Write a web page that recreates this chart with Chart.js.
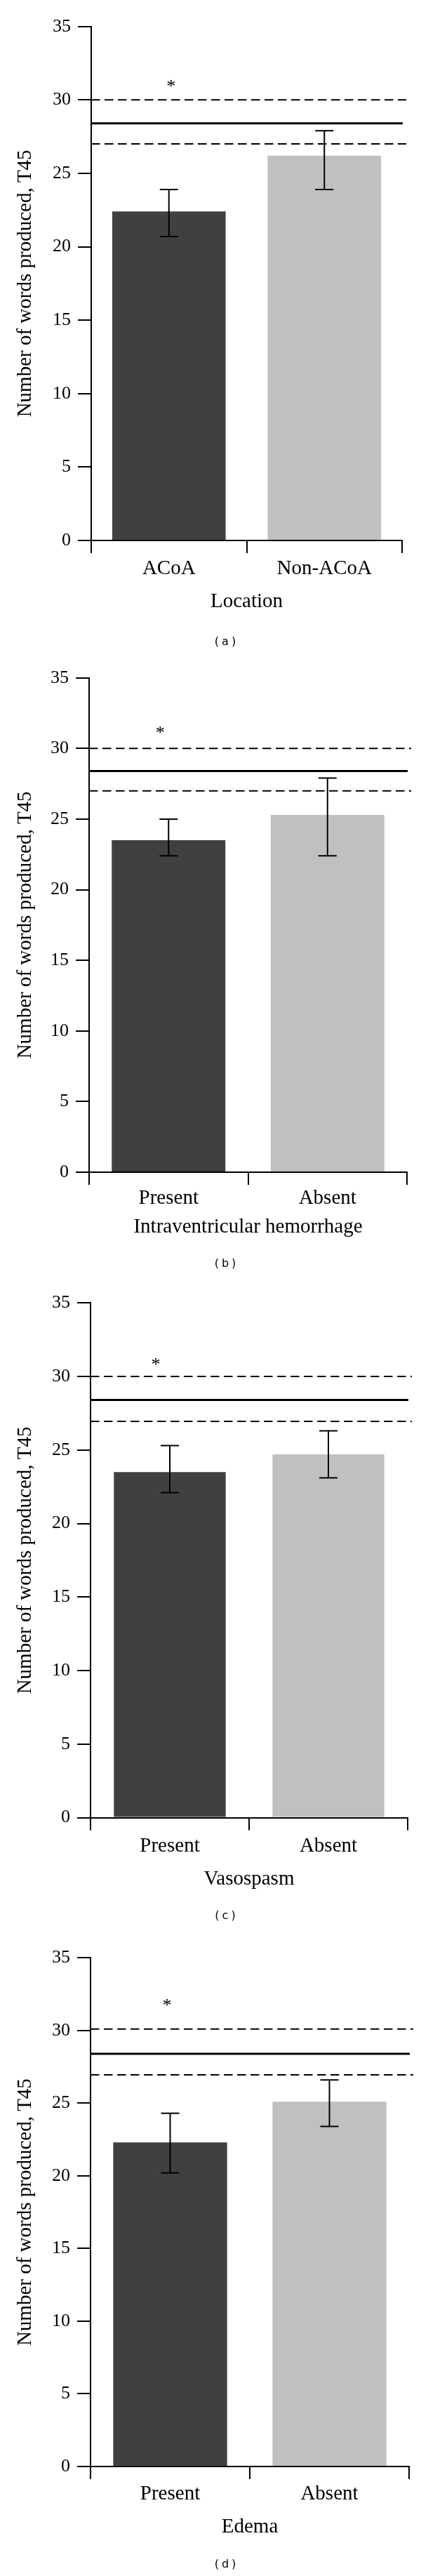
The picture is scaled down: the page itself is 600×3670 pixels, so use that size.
<!DOCTYPE html>
<html>
<head>
<meta charset="utf-8">
<script src="https://cdn.jsdelivr.net/npm/chart.js@4.4.1/dist/chart.umd.min.js"></script>
<style>
  html, body { margin: 0; padding: 0; background: #fff; }
  #page { position: relative; width: 600px; height: 3670px; }
  .panel { position: absolute; left: 0; width: 600px; }
</style>
</head>
<body>
<div id="page"></div>
<script>
// (a) Location
const locationLabels = ['ACoA', 'Non-ACoA'];
const locationMeans = [22.4, 26.2];
const locationLow = [20.7, 23.9];
const locationHigh = [23.9, 27.9];

// (b) Intraventricular hemorrhage
const ivhLabels = ['Present', 'Absent'];
const ivhMeans = [23.5, 25.3];
const ivhLow = [22.4, 22.4];
const ivhHigh = [25.0, 27.9];

// (c) Vasospasm
const vasoLabels = ['Present', 'Absent'];
const vasoMeans = [23.5, 24.7];
const vasoLow = [22.1, 23.1];
const vasoHigh = [25.3, 26.3];

// (d) Edema
const edemaLabels = ['Present', 'Absent'];
const edemaMeans = [22.3, 25.1];
const edemaLow = [20.2, 23.4];
const edemaHigh = [24.3, 26.6];

// normative mean (solid) and +/- band (dashed), one per panel
const normUpper = [30.0, 30.0, 30.0, 30.1];
const normMean = [28.4, 28.4, 28.4, 28.4];
const normLower = [27.0, 27.0, 26.95, 26.95];
const asteriskValue = [31.2, 31.4, 31.1, 32.0];

const axisTitles = ['Location', 'Intraventricular hemorrhage', 'Vasospasm', 'Edema'];
const captions = ['(a)', '(b)', '(c)', '(d)'];
const yMin = 0, yMax = 35, yStep = 5;
const yTitle = 'Number of words produced, T45';

const barColors = ['#404040', '#c0c0c0'];

// page layout of each panel (pixels)
const layouts = [
  { top: 0,    h: 925, areaTop: 37.7, areaBottom: 770,   left: 130, right: 573, labelPad: 4.6, titlePad: 50.6, capY: 915,   starDx: 3,   barPct: 0.73 },
  { top: 925,  h: 890, areaTop: 40.7, areaBottom: 745,   left: 127, right: 580, labelPad: 2.1, titlePad: 49.1, capY: 876,   starDx: -12, barPct: 0.715 },
  { top: 1815, h: 930, areaTop: 41.3, areaBottom: 774.5, left: 129, right: 581, labelPad: 5.5, titlePad: 50.6, capY: 915,   starDx: -20, barPct: 0.705 },
  { top: 2745, h: 925, areaTop: 44.2, areaBottom: 769,   left: 129, right: 583, labelPad: 4.4, titlePad: 52.6, capY: 908.4, starDx: -4.5, barPct: 0.715 }
];

const panels = [
  { labels: locationLabels, means: locationMeans, low: locationLow, high: locationHigh },
  { labels: ivhLabels, means: ivhMeans, low: ivhLow, high: ivhHigh },
  { labels: vasoLabels, means: vasoMeans, low: vasoLow, high: vasoHigh },
  { labels: edemaLabels, means: edemaMeans, low: edemaLow, high: edemaHigh }
];

Chart.defaults.font.family = '"Liberation Serif", "Times New Roman", serif';
Chart.defaults.color = '#000';

function marksPlugin(idx) {
  const p = panels[idx];
  const lay = layouts[idx];
  return {
    id: 'marks' + idx,
    afterDatasetsDraw(chart) {
      const { ctx, chartArea, scales: { x, y } } = chart;
      const meta = chart.getDatasetMeta(0);
      ctx.save();
      ctx.strokeStyle = '#000';
      ctx.fillStyle = '#000';

      // dashed band
      ctx.lineWidth = 2;
      ctx.setLineDash([12.5, 6.5]);
      [normUpper[idx], normLower[idx]].forEach(v => {
        const py = y.getPixelForValue(v);
        ctx.beginPath();
        ctx.moveTo(chartArea.left, py);
        ctx.lineTo(chartArea.right + 6, py);
        ctx.stroke();
      });
      ctx.setLineDash([]);

      // solid mean line
      ctx.lineWidth = 3;
      const my = y.getPixelForValue(normMean[idx]);
      ctx.beginPath();
      ctx.moveTo(chartArea.left, my);
      ctx.lineTo(chartArea.right + 1, my);
      ctx.stroke();

      // error bars
      ctx.lineWidth = 2;
      meta.data.forEach((bar, i) => {
        const t = y.getPixelForValue(p.high[i]);
        const b = y.getPixelForValue(p.low[i]);
        const cx = bar.x;
        ctx.beginPath();
        ctx.moveTo(cx, t); ctx.lineTo(cx, b);
        ctx.moveTo(cx - 13, t); ctx.lineTo(cx + 13, t);
        ctx.moveTo(cx - 13, b); ctx.lineTo(cx + 13, b);
        ctx.stroke();
      });

      // significance mark
      ctx.font = '26px "Liberation Serif"';
      ctx.textAlign = 'center';
      ctx.textBaseline = 'alphabetic';
      ctx.fillText('*', x.getPixelForValue(0) + lay.starDx, y.getPixelForValue(asteriskValue[idx]) + 14);

      // panel caption
      ctx.font = '16px "DejaVu Sans"';
      ctx.letterSpacing = '4px';
      ctx.textBaseline = 'middle';
      ctx.fillText(captions[idx], 323, lay.capY);
      ctx.restore();
    }
  };
}

const page = document.getElementById('page');

panels.forEach((p, idx) => {
  const lay = layouts[idx];
  const div = document.createElement('div');
  div.className = 'panel';
  div.style.top = lay.top + 'px';
  div.style.height = lay.h + 'px';
  const canvas = document.createElement('canvas');
  canvas.width = 600;
  canvas.height = lay.h;
  div.appendChild(canvas);
  page.appendChild(div);

  new Chart(canvas, {
    type: 'bar',
    data: {
      labels: p.labels,
      datasets: [{
        data: p.means,
        backgroundColor: barColors,
        borderWidth: 0,
        categoryPercentage: 1,
        barPercentage: lay.barPct
      }]
    },
    options: {
      responsive: false,
      animation: false,
      devicePixelRatio: 1,
      layout: { padding: { top: lay.areaTop, right: 600 - lay.right, bottom: 0, left: 0 } },
      plugins: { legend: { display: false }, tooltip: { enabled: false } },
      scales: {
        x: {
          afterFit: (scale) => { scale.height = lay.h - lay.areaBottom; },
          grid: { display: true, drawOnChartArea: false, drawTicks: true, tickLength: 18, color: '#000', lineWidth: 2 },
          border: { display: true, color: '#000', width: 2 },
          ticks: { font: { size: 29 }, color: '#000', padding: lay.labelPad, maxRotation: 0 },
          title: { display: true, text: axisTitles[idx], font: { size: 29 }, color: '#000', padding: { top: 0, bottom: lay.titlePad } }
        },
        y: {
          min: yMin,
          max: yMax,
          afterFit: (scale) => { scale.width = lay.left; },
          grid: { display: true, drawOnChartArea: false, drawTicks: true, tickLength: 19, color: '#000', lineWidth: 2 },
          border: { display: true, color: '#000', width: 2 },
          ticks: { stepSize: yStep, font: { size: 26 }, color: '#000', padding: 10 },
          title: { display: true, text: yTitle, font: { size: 29 }, color: '#000', padding: { top: 18.6, bottom: 0 } }
        }
      }
    },
    plugins: [marksPlugin(idx)]
  });
});
</script>
</body>
</html>
